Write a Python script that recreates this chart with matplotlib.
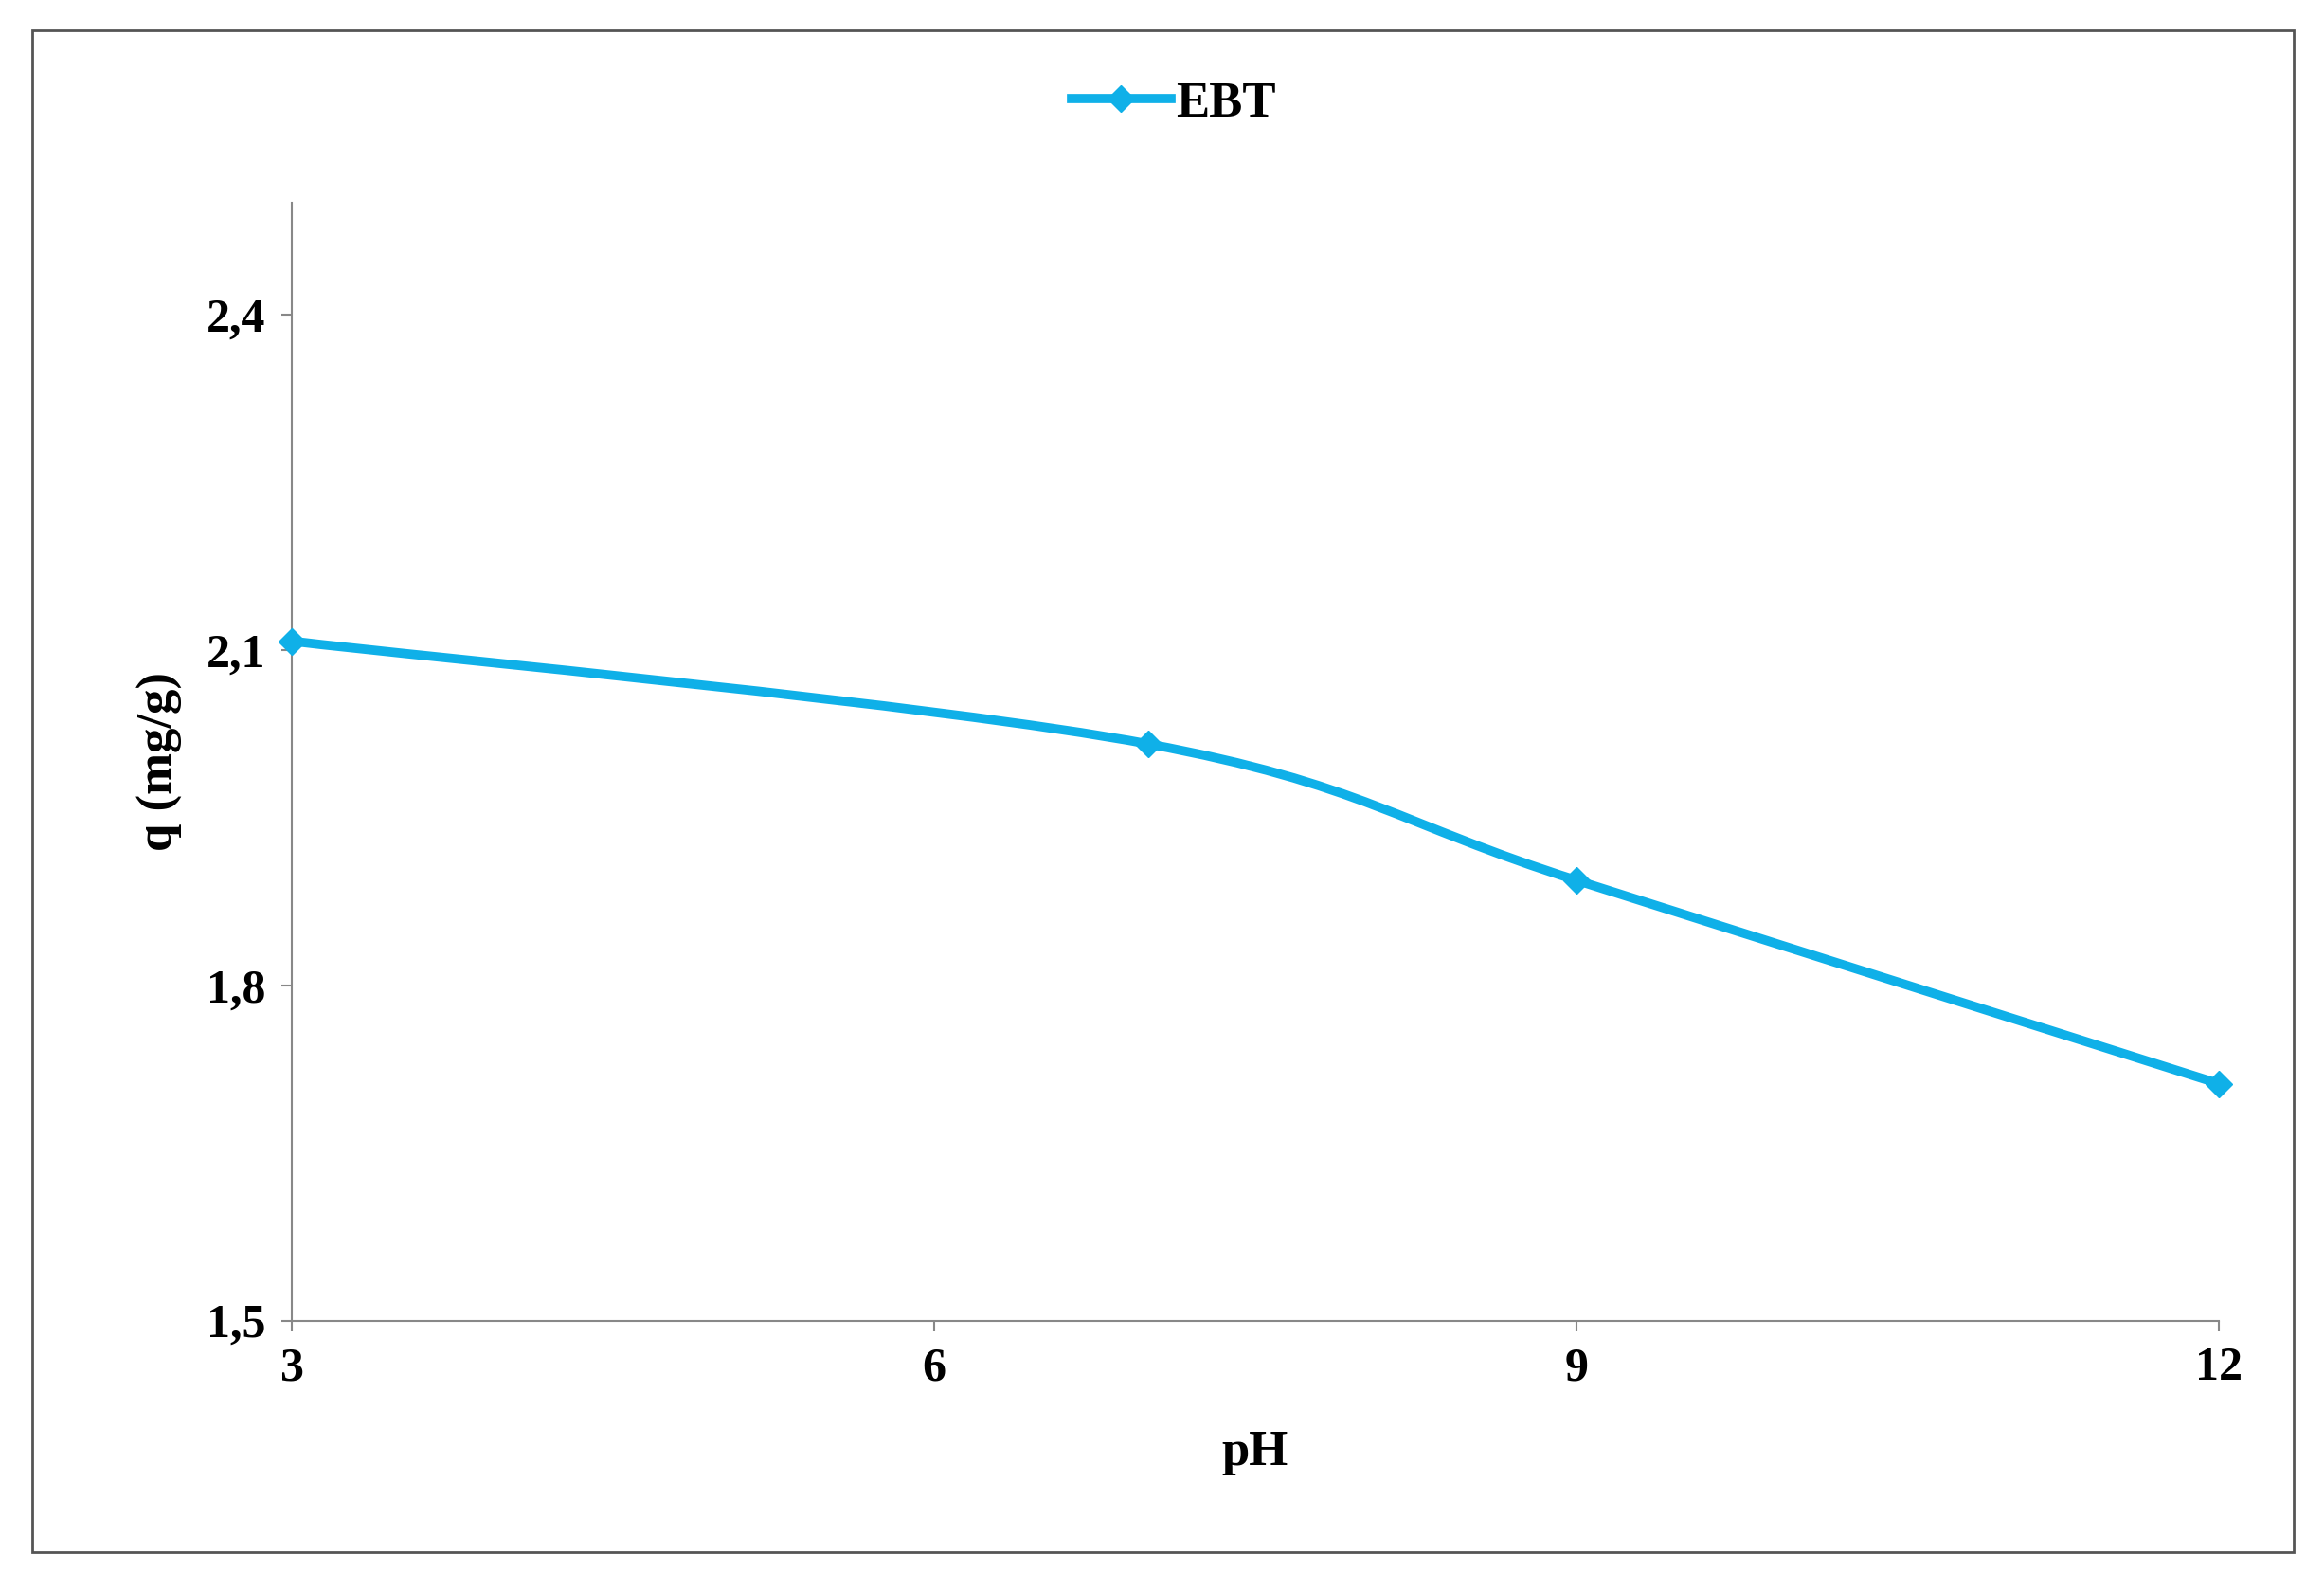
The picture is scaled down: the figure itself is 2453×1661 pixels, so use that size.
import numpy as np
import matplotlib.pyplot as plt
from matplotlib.path import Path
from matplotlib.patches import PathPatch, Rectangle

ph = [3, 7, 9, 12]
q = [2.108, 2.016, 1.894, 1.712]
x_ticks = [3, 6, 9, 12]
y_ticks = [1.5, 1.8, 2.1, 2.4]
y_labels = ['1,5', '1,8', '2,1', '2,4']

plt.rcParams['font.family'] = ['Liberation Serif', 'DejaVu Serif']
plt.rcParams['font.weight'] = 'bold'
color = '#0FB0E8'

fig = plt.figure(figsize=(24.53, 16.61), dpi=100)
ax = fig.add_axes([0.1256, 0.161, 0.8291, 0.71])

# Excel-style smoothed line: Catmull-Rom converted to cubic Bezier
x = np.array(ph, float); y = np.array(q, float)
verts = [(x[0], y[0])]; codes = [Path.MOVETO]
n = len(x)
for i in range(n - 1):
    p0 = (x[max(i - 1, 0)], y[max(i - 1, 0)])
    p1 = (x[i], y[i]); p2 = (x[i + 1], y[i + 1])
    p3 = (x[min(i + 2, n - 1)], y[min(i + 2, n - 1)])
    t = 1 / 6
    c1 = (p1[0] + (p2[0] - p0[0]) * t, p1[1] + (p2[1] - p0[1]) * t)
    c2 = (p2[0] - (p3[0] - p1[0]) * t, p2[1] - (p3[1] - p1[1]) * t)
    verts += [c1, c2, p2]; codes += [Path.CURVE4] * 3
ax.add_patch(PathPatch(Path(verts, codes), fill=False, edgecolor=color, lw=7,
                       capstyle='round', joinstyle='round', zorder=3, clip_on=False))
ax.plot(ph, q, linestyle='none', marker='D', markersize=14, color=color, zorder=4,
        clip_on=False)
ax.plot([], [], '-D', color=color, lw=7, markersize=14, label='EBT')

ax.set_xlim(3, 12)
ax.set_ylim(1.5, 2.5)
ax.set_xticks(x_ticks)
ax.set_yticks(y_ticks)
ax.set_yticklabels(y_labels)
ax.tick_params(labelsize=36, length=8, width=1.5, color='#888888', pad=12)
for s in ['top', 'right']:
    ax.spines[s].set_visible(False)
for s in ['left', 'bottom']:
    ax.spines[s].set_color('#888888')
    ax.spines[s].set_linewidth(1.5)
ax.set_xlabel('pH', fontsize=38, fontweight='bold', labelpad=30)
ax.set_ylabel('q (mg/g)', fontsize=38, fontweight='bold', labelpad=18)
fig.legend(loc='center', bbox_to_anchor=(0.505, 0.934), frameon=False, fontsize=38,
           handlelength=2.0, handletextpad=0.1)

fig.patches.append(Rectangle((0.014, 0.014), 0.973, 0.967, transform=fig.transFigure,
                             fill=False, edgecolor='#555555', lw=2))
fig.savefig('out.png', dpi=100)
